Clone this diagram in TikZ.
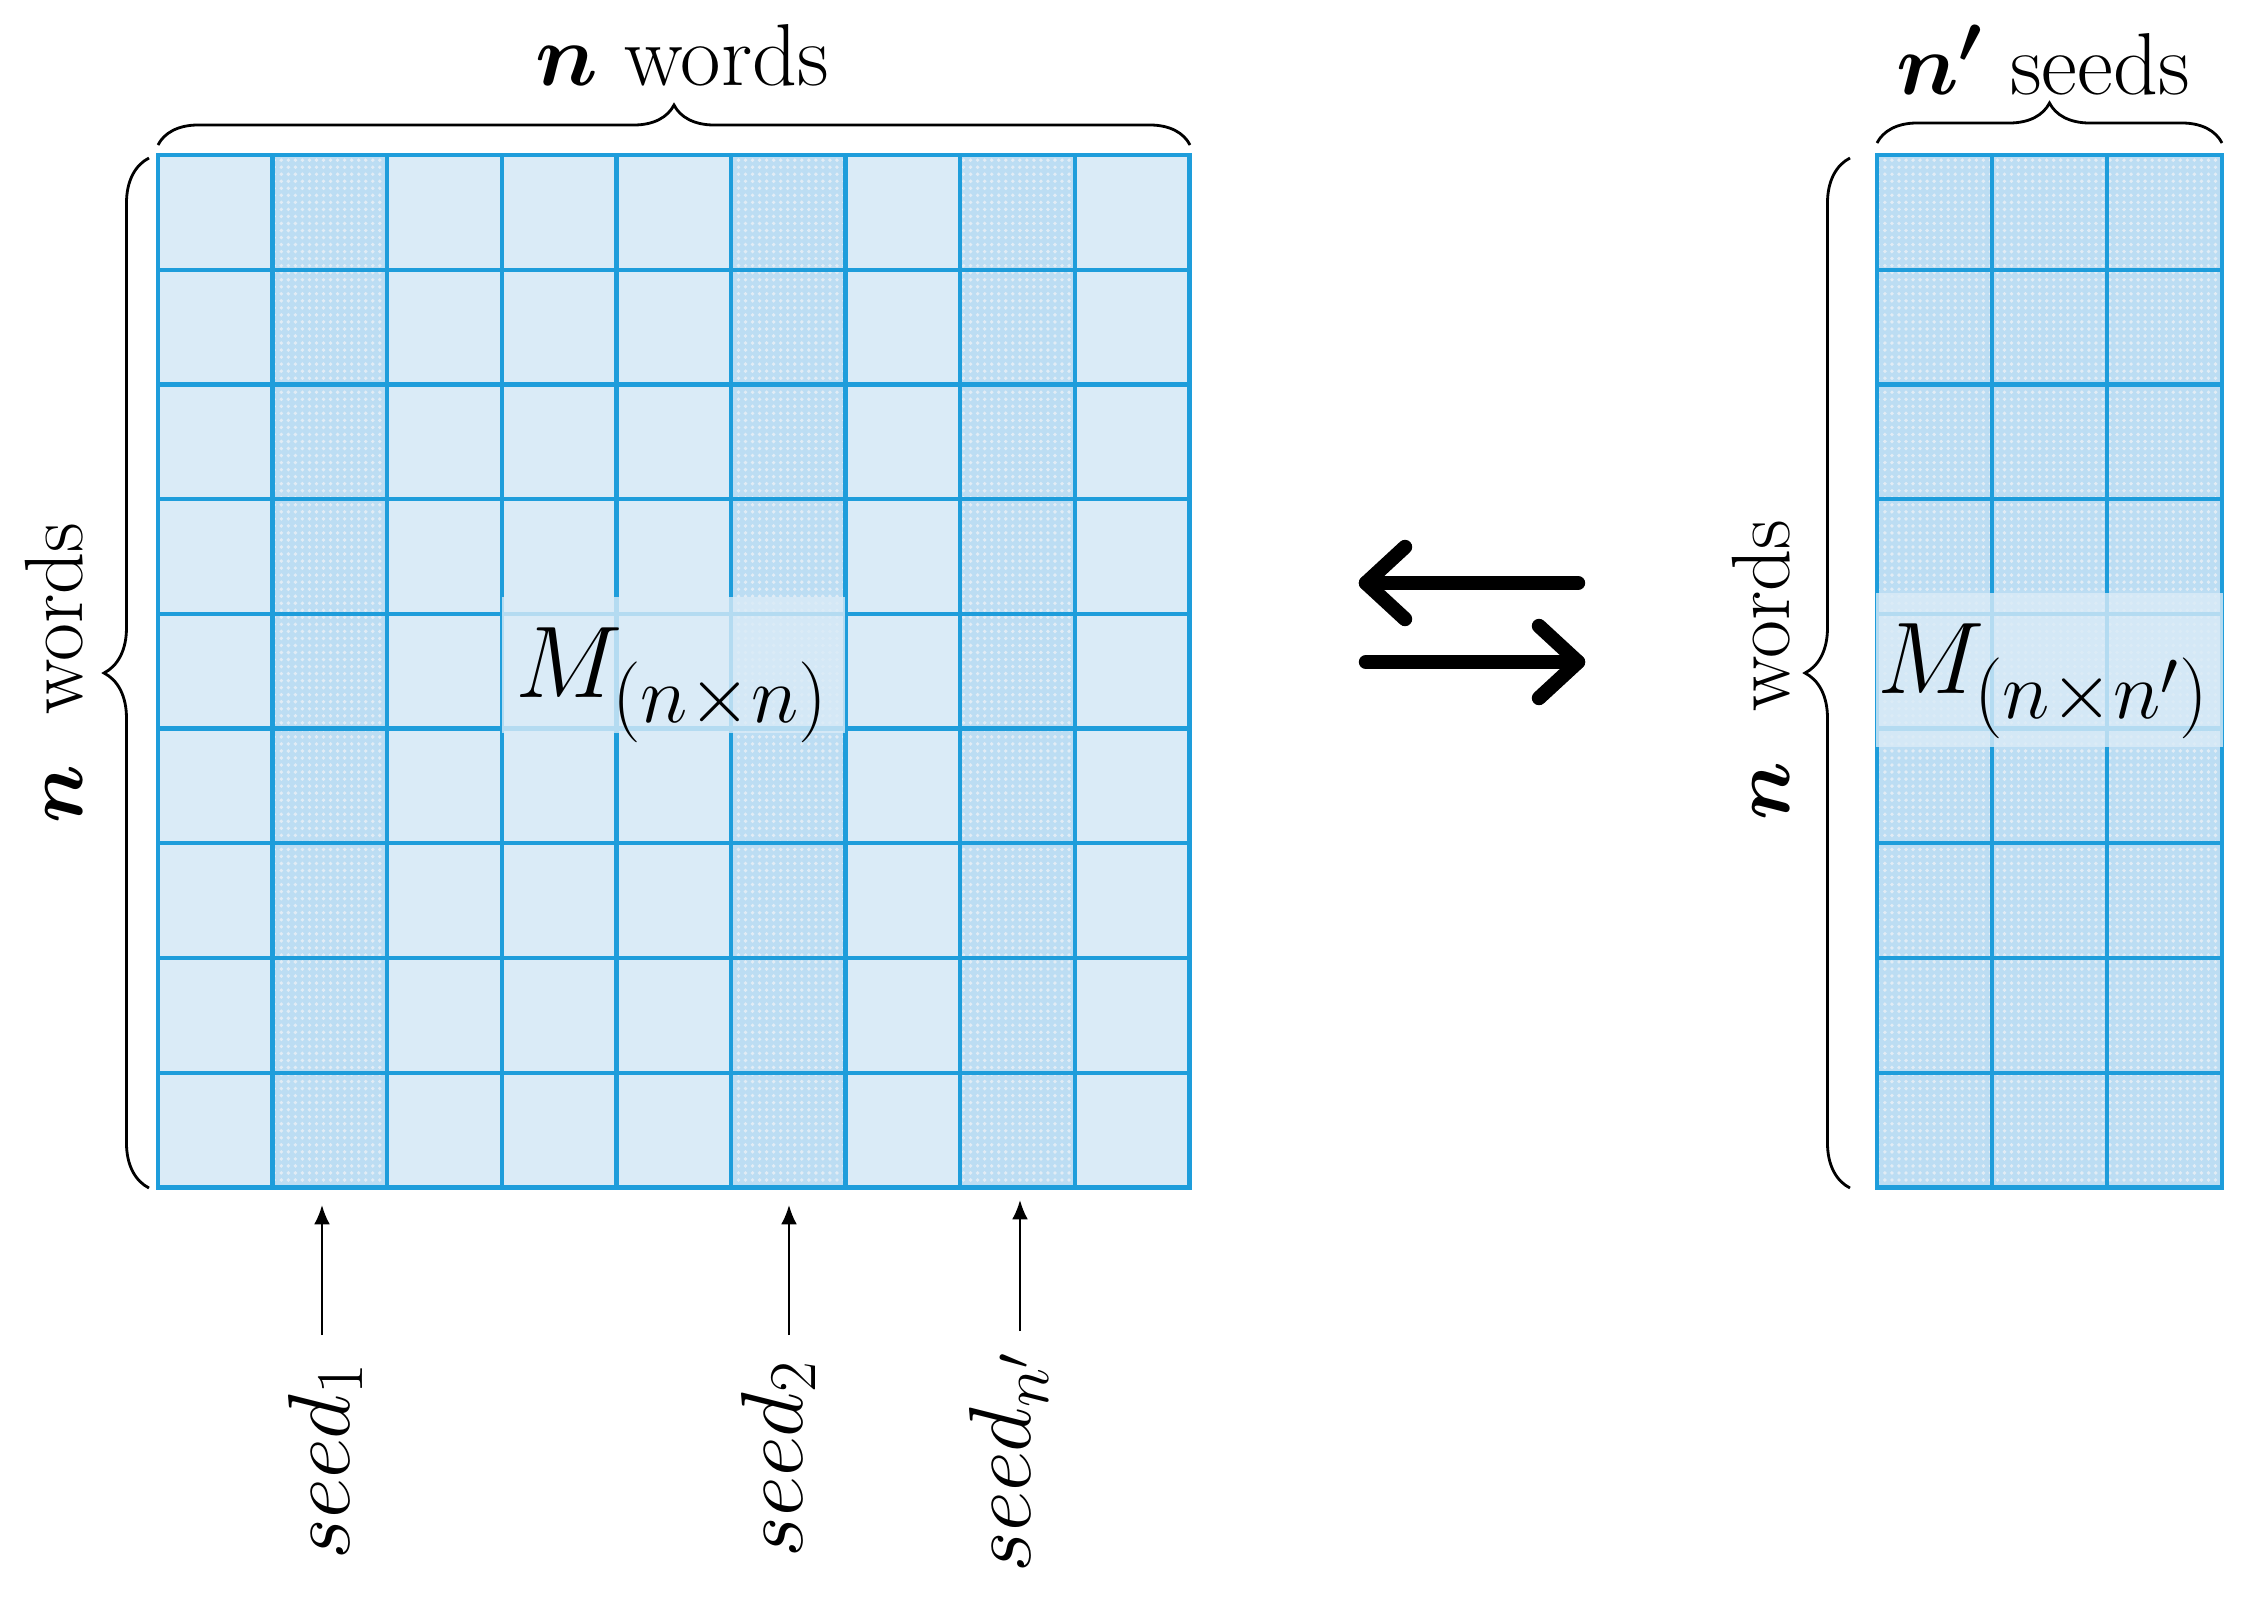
\documentclass[tikz,border=0pt]{standalone}
\usepackage{fix-cm}
\usepackage{amsmath}
\DeclareMathSizes{29}{29}{23}{18}
\DeclareMathSizes{25}{25}{19}{15}
\usetikzlibrary{decorations.pathreplacing,patterns.meta,arrows.meta}
\definecolor{gridblue}{RGB}{30,157,219}
\definecolor{cellfill}{RGB}{218,235,247}
\definecolor{seedfill}{RGB}{188,221,243}
\definecolor{seeddot}{RGB}{226,236,245}
\tikzset{
  gridline/.style={draw=gridblue, line width=1.2pt},
  gridframe/.style={draw=gridblue, line width=1.4pt, line join=miter},
  bracestyle/.style={decorate, decoration={brace, amplitude=#1}, line width=0.8pt, black},
  seedarrow/.style={-{Latex[length=5.5pt,width=4.5pt]}, line width=0.6pt, black},
  swaparrow/.style={line width=4.1pt, line cap=round, line join=round, black},
  overlaybox/.style={fill=cellfill, fill opacity=0.8, inner sep=0pt, draw=none},
  dotpat/.style={pattern={Dots[distance=2pt,radius=0.55pt]}, pattern color=seeddot},
  bigtext/.style={inner sep=0pt, font=\fontsize{25}{30}\selectfont},
  sidetext/.style={inner sep=0pt, rotate=90, font=\fontsize{23.5}{28}\selectfont},
  seedtext/.style={inner sep=0pt, rotate=90, anchor=base west, font=\fontsize{25}{30}\selectfont},
  mtext/.style={inner sep=0pt, anchor=base west, font=\fontsize{29}{34}\selectfont},
}
\begin{document}
\begin{tikzpicture}[x=0.01cm,y=-0.01cm]
\useasboundingbox (0,0) rectangle (2250,1602);

% ---------- left grid (n x n) ----------
\fill[cellfill] (158,155) rectangle (1189.4,1187.3);
\foreach \i in {1,5,7} {
  \fill[seedfill] ({158+\i*114.6},155) rectangle ({158+(\i+1)*114.6},1187.3);
  \fill[dotpat] ({158+\i*114.6},155) rectangle ({158+(\i+1)*114.6},1187.3);
}
\foreach \i in {1,...,8} \draw[gridline] ({158+\i*114.6},155) -- ({158+\i*114.6},1187.3);
\foreach \j in {1,...,8} \draw[gridline] (158,{155+\j*114.7}) -- (1189.4,{155+\j*114.7});
\draw[gridframe] (158,155) rectangle (1189.4,1187.3);

% ---------- right grid (n x n') ----------
\fill[seedfill] (1877,155) rectangle (2222,1187.3);
\fill[dotpat] (1877,155) rectangle (2222,1187.3);
\foreach \i in {1,2} \draw[gridline] ({1877+\i*115},155) -- ({1877+\i*115},1187.3);
\foreach \j in {1,...,8} \draw[gridline] (1877,{155+\j*114.7}) -- (2222,{155+\j*114.7});
\draw[gridframe] (1877,155) rectangle (2222,1187.3);

% ---------- matrix labels ----------
\node[overlaybox, minimum width=3.43cm, minimum height=1.36cm] (lbox) at (673.5,665) {};
\node[mtext] (lmat) at (515,697) {$M_{(n\times n)}$};
\node[overlaybox, minimum width=3.47cm, minimum height=1.54cm] (rbox) at (2049.5,670) {};
\node[mtext] (rmat) at (1877,693) {$M_{(n\times n')}$};

% ---------- braces ----------
\draw[bracestyle=4mm] (158,145) -- (1190,145);
\draw[bracestyle=4.5mm] (149,1188) -- (149,158);
\draw[bracestyle=4mm] (1877,143) -- (2222,143);
\draw[bracestyle=4.5mm] (1850,1188) -- (1850,158);

% ---------- brace labels ----------
\node[bigtext, anchor=base] (topl) at (682,85) {$\boldsymbol{n}$ words};
\node[bigtext, anchor=base] (topr) at (2043,94) {$\boldsymbol{n'}$ seeds};
\node[sidetext, anchor=base] (sidel) at (83,673) {$\boldsymbol{n}$\hspace{0.3em} words};
\node[sidetext, anchor=base] (sider) at (1789,670) {$\boldsymbol{n}$\hspace{0.3em} words};

% ---------- swap arrows ----------
\coordinate (la) at (1366,583);
\coordinate (lb) at (1578,583);
\coordinate (lu) at (1405,547);
\coordinate (ld) at (1405,619);
\draw[swaparrow] (lb) -- (la);
\draw[swaparrow] (lu) -- (la) -- (ld);
\coordinate (ra) at (1366,662);
\coordinate (rb) at (1578,662);
\coordinate (ru) at (1539,626);
\coordinate (rd) at (1539,698);
\draw[swaparrow] (ra) -- (rb);
\draw[swaparrow] (ru) -- (rb) -- (rd);

% ---------- seed labels and arrows ----------
\node[seedtext] (s1) at (349,1560) {$seed_1$};
\node[seedtext] (s2) at (802,1558) {$seed_2$};
\node[seedtext] (s3) at (1030,1573) {$seed_{n'}$};
\coordinate (s1t) at (322,1335);
\coordinate (s1h) at (322,1205);
\coordinate (s2t) at (789,1335);
\coordinate (s2h) at (789,1205);
\coordinate (s3t) at (1020,1331);
\coordinate (s3h) at (1020,1200);
\draw[seedarrow] (s1t) -- (s1h);
\draw[seedarrow] (s2t) -- (s2h);
\draw[seedarrow] (s3t) -- (s3h);
\end{tikzpicture}
\end{document}
